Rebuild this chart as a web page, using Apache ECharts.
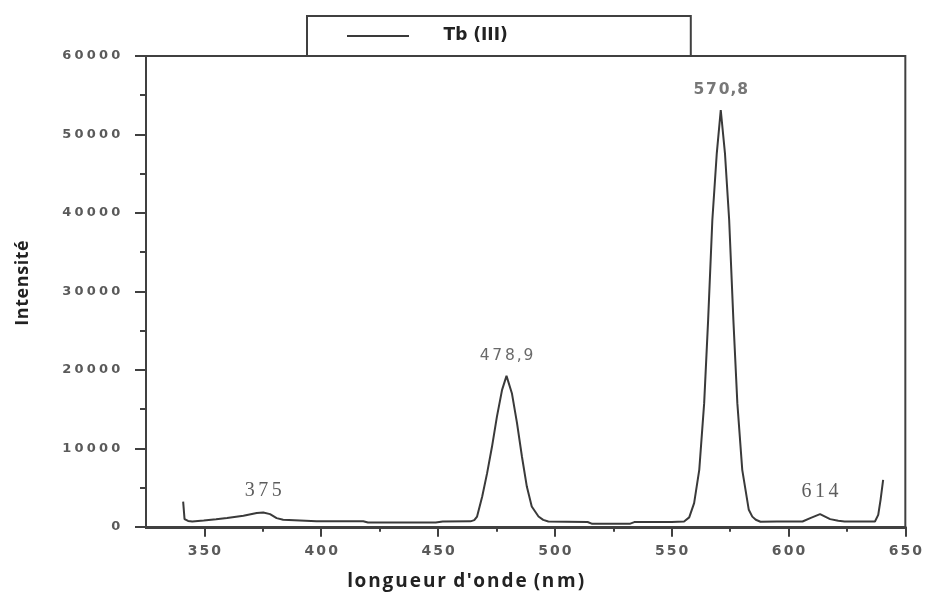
<!DOCTYPE html>
<html>
<head>
<meta charset="utf-8">
<script src="https://cdn.jsdelivr.net/npm/echarts@6/dist/echarts.min.js"></script>
<style>
  html, body { margin: 0; padding: 0; background: #fff; }
  #chart { width: 925px; height: 596px; }
</style>
</head>
<body>
<div id="chart"></div>
<script>
// spectre d'émission Tb(III)
const wavelengths = [
  340.9, 341.5, 343, 344.8, 349.7, 355, 359.7, 366.7, 372.4, 375.2, 378.1, 380.9, 383.7, 390.9,
  398, 410, 418, 420, 440, 449, 452, 463.9, 465.5, 466.7, 468.9, 471.0, 473.1, 475.2, 477.4, 479.3,
  481.6, 483.8, 485.9, 488.0, 490.1, 493.0, 495, 497.2, 505, 514, 516, 532, 534, 550, 555.3, 557.5,
  559.6, 561.8, 563.9, 565.6, 567.4, 569.3, 571.0, 572.8, 574.6, 576.4, 578.1, 580.2, 583.0,
  584.5, 586, 588, 595, 606, 609.3, 613.5, 617.8, 621.3, 624, 637, 638.4, 639.4, 640.5
]
const intensities = [
  3220, 980, 750, 680, 800, 950, 1110, 1400, 1750, 1820, 1620, 1110, 890, 800,
  700, 720, 700, 560, 550, 560, 680, 700, 850, 1310, 3860, 6840, 10230, 14050, 17450, 19240,
  17030, 13210, 8960, 5130, 2590, 1310, 880, 680, 650, 620, 380, 380, 600, 620, 680, 1200,
  3020, 7260, 15760, 26370, 39100, 47600, 53120, 47600, 39100, 26370, 15760, 7260, 2170,
  1300, 900, 650, 680, 680, 1110, 1620, 980, 765, 680, 680, 1530, 3440, 5990
]

// pics annotés
const peakX = [375.2, 479.3, 571.0, 613.5]
const peakY = [1820, 19240, 53120, 1620]
const peakText = ['375', '478,9', '570,8', '614']

// graduations
const xMajorTicks = [350, 400, 450, 500, 550, 600, 650]
const xMinorTicks = [375, 425, 475, 525, 575, 625]
const yMajorTicks = [0, 10000, 20000, 30000, 40000, 50000, 60000]
const yMinorTicks = [5000, 15000, 25000, 35000, 45000, 55000]

const seriesName = 'Tb (III)'
const xTitle = "longueur d'onde (nm)"
const yTitle = 'Intensité'

const AXIS = '#404040'
const peakStyle = ['s', 'a', 'b', 's']

// la figure d'origine est étirée horizontalement : on espace les caractères
const spaced = (txt, key) => String(txt).split('')
  .map(c => '{' + (c === ',' ? key + 'c' : key) + '|' + c + '}').join('')

const measureCtx = document.createElement('canvas').getContext('2d')
// chaque lettre dans sa propre boîte, élargie pour atteindre la largeur voulue
function stretched(txt, font, targetWidth, base) {
  measureCtx.font = font
  const widths = txt.split('').map(c => measureCtx.measureText(c).width)
  const k = targetWidth / widths.reduce((a, b) => a + b, 0)
  const rich = {}
  const text = txt.split('').map((c, i) => {
    rich['t' + i] = Object.assign({}, base, { width: widths[i] * k, align: 'center' })
    return '{t' + i + '|' + c + '}'
  }).join('')
  return { text, rich }
}

const xNameBase = { fontFamily: 'Open Sans', fontWeight: 'bold', fontSize: 19, color: '#222' }
const xName = stretched(xTitle, 'bold 19px "Open Sans"', 238, xNameBase)
const yNameBase = { fontFamily: 'Open Sans', fontWeight: 'bold', fontSize: 18, color: '#222' }
const yName = stretched(yTitle, 'bold 18px "Open Sans"', 86, yNameBase)

const chart = echarts.init(document.getElementById('chart'))

const option = {
  backgroundColor: '#fff',
  animation: false,
  grid: {
    left: 146, right: 15, top: 56, bottom: 68,
    show: true, borderColor: AXIS, borderWidth: 2,
  },
  legend: {
    data: [seriesName],
    left: 307, top: 16,
    padding: [11, 183, 11, 40],
    borderColor: AXIS, borderWidth: 2,
    icon: 'rect',
    itemWidth: 62, itemHeight: 2,
    formatter: name => '     ' + name,
    textStyle: { fontFamily: 'DejaVu Sans', fontWeight: 'bold', fontSize: 17, color: '#222', lineHeight: 18 },
  },
  xAxis: [
    {
      type: 'value', min: 325, max: 650, position: 'bottom',
      axisLine: { lineStyle: { color: AXIS, width: 2 } },
      axisTick: { customValues: xMajorTicks, length: 10, lineStyle: { color: AXIS, width: 2 } },
      axisLabel: {
        customValues: xMajorTicks, margin: 16,
        formatter: v => spaced(v, 'd'),
        rich: { d: { width: 11.8, align: 'center', fontFamily: 'DejaVu Sans', fontWeight: 'bold', fontSize: 14, color: '#5a5a5a' } },
      },
      splitLine: { show: false },
      name: xName.text, nameLocation: 'middle', nameGap: 44,
      nameTextStyle: { rich: xName.rich, padding: [0, 120, 0, 0] },
    },
    {
      type: 'value', min: 325, max: 650, position: 'bottom',
      axisLine: { show: false },
      axisTick: { customValues: xMinorTicks, length: 5, lineStyle: { color: AXIS, width: 2 } },
      axisLabel: { show: false },
      splitLine: { show: false },
    },
  ],
  yAxis: [
    {
      type: 'value', min: -150, max: 60000, position: 'left',
      axisLine: { show: true, lineStyle: { color: AXIS, width: 2 } },
      axisTick: { show: true, customValues: yMajorTicks, length: 11, lineStyle: { color: AXIS, width: 2 } },
      axisLabel: {
        customValues: yMajorTicks, margin: 24,
        formatter: v => spaced(v, 'd'),
        rich: { d: { width: 12.3, align: 'center', fontFamily: 'DejaVu Sans', fontWeight: 'bold', fontSize: 13, color: '#5a5a5a' } },
      },
      splitLine: { show: false },
      name: yName.text, nameLocation: 'middle', nameGap: 114, nameRotate: 90,
      nameTextStyle: { rich: yName.rich, padding: [0, 0, 0, 18] },
    },
    {
      type: 'value', min: -150, max: 60000, position: 'left',
      axisLine: { show: false },
      axisTick: { show: true, customValues: yMinorTicks, length: 6, lineStyle: { color: AXIS, width: 2 } },
      axisLabel: { show: false },
      splitLine: { show: false },
    },
  ],
  series: [
    {
      name: seriesName,
      type: 'line',
      data: wavelengths.map((w, i) => [w, intensities[i]]),
      symbol: 'none',
      lineStyle: { color: '#3a3a3a', width: 2 },
      itemStyle: { color: '#3a3a3a' },
    },
    {
      type: 'scatter',
      data: peakX.map((x, i) => [x, peakY[i]]),
      symbolSize: 0,
      silent: true,
      label: {
        show: true, position: 'top', distance: 12,
        formatter: p => spaced(peakText[p.dataIndex], peakStyle[p.dataIndex]),
        rich: {
          s: { width: 13.5, align: 'center', fontFamily: 'Liberation Serif', fontSize: 20, color: '#333' },
          a: { width: 12.6, align: 'center', fontFamily: 'DejaVu Sans', fontSize: 15.5, color: '#444' },
          ac: { width: 6, align: 'center', fontFamily: 'DejaVu Sans', fontSize: 15.5, color: '#444' },
          b: { width: 12.6, align: 'center', fontFamily: 'DejaVu Sans', fontWeight: 'bold', fontSize: 15.5, color: '#555' },
          bc: { width: 6, align: 'center', fontFamily: 'DejaVu Sans', fontWeight: 'bold', fontSize: 15.5, color: '#555' },
        },
      },
    },
  ],
}

chart.setOption(option)
</script>
</body>
</html>
